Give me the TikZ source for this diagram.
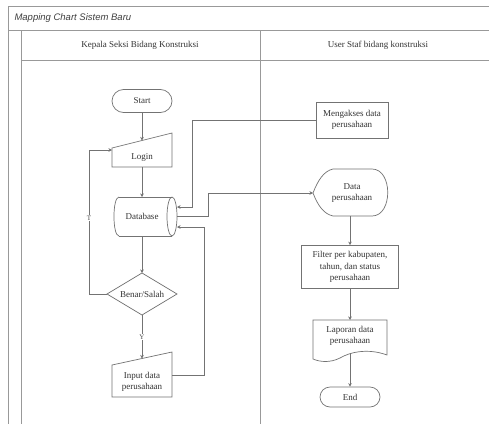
\documentclass[tikz,border=0pt]{standalone}
\usepackage{fontspec}
\setmainfont{Liberation Serif}
\newfontfamily\titlefont{Liberation Sans}
\usetikzlibrary{arrows.meta,calc}
\begin{document}
\begin{tikzpicture}[x=1pt,y=-1pt,
  frame/.style={draw=black!40,line width=0.8pt},
  shp/.style={draw=black!55,line width=0.7pt},
  txt/.style={font=\fontsize{9}{11.5}\selectfont,align=center,inner sep=0pt,text=black!80},
  link/.style={draw=black!55,line width=0.7pt},
  arr/.style={link,-{Stealth[length=3.5pt,width=3.5pt]}},
  lbl/.style={font=\fontsize{7}{8}\selectfont,fill=white,inner sep=0.5pt,text=black!70}]
\useasboundingbox (0,0) rectangle (489,423);
\fill[white] (0,0) rectangle (489,423);

% pool frame, title row and lane headers
\draw[frame] (495,6) -- (8,6) -- (8,430);
\draw[frame] (8,30) -- (495,30);
\draw[frame] (21,30) -- (21,430);
\draw[frame] (21,60) -- (495,60);
\draw[frame] (260,30) -- (260,430);
\node[anchor=west,font=\titlefont\itshape\fontsize{9.5}{11}\selectfont,text=black!75] (title) at (11,18) {Mapping Chart Sistem Baru};
\node[txt] (laneA) at (140,45) {Kepala Seksi Bidang Konstruksi};
\node[txt] (laneB) at (378,45) {User Staf bidang konstruksi};

% ---- left lane ----
\node[txt,shp,rounded corners=11.5pt,minimum width=60pt,minimum height=23pt] (start) at (142,101) {Start};

% Login (manual input)
\draw[shp] (112,148) -- (172,133) -- (172,167) -- (112,167) -- cycle;
\coordinate (loginTop) at (142,140.5);
\coordinate (loginBot) at (142,167);
\coordinate (loginW) at (112,150);
\node[txt] (login) at (142,157) {Login};

% Database (direct access storage)
\draw[shp] (119,197) -- (172,197) (119,236) -- (172,236);
\draw[shp] (119,197) .. controls (112.3,197) and (112.3,236) .. (119,236);
\draw[shp] (172,216.5) ellipse [x radius=5, y radius=19.5];
\coordinate (dbTop) at (142,197);
\coordinate (dbBot) at (142,236);
\coordinate (dbInA) at (177,207);
\coordinate (dbOut) at (177,216);
\coordinate (dbInB) at (177,227);
\node[txt] (db) at (142,216.5) {Database};

% Benar/Salah decision
\draw[shp] (107,294) -- (142,273) -- (177,294) -- (142,315) -- cycle;
\coordinate (decTop) at (142,273);
\coordinate (decBot) at (142,315);
\coordinate (decW) at (107,294);
\node[txt] (dec) at (142,294) {Benar/Salah};

% Input data perusahaan (manual input)
\draw[shp] (112,365) -- (172,352) -- (172,397) -- (112,397) -- cycle;
\coordinate (inpTop) at (142,358.5);
\coordinate (inpE) at (172,375);
\node[txt] (inp) at (142,382) {Input data\\perusahaan};

% ---- right lane ----
\node[txt,shp,minimum width=72pt,minimum height=36pt] (acc) at (352,120) {Mengakses data\\perusahaan};

% Data perusahaan (display)
\draw[shp] (313,193) .. controls (318,180) and (324,171) .. (333,169) -- (372,169)
  .. controls (393,169) and (393,216) .. (372,216) -- (333,216)
  .. controls (324,214) and (318,206) .. cycle;
\coordinate (datW) at (313,193);
\coordinate (datBot) at (350,216);
\node[txt] (dat) at (352,193) {Data\\perusahaan};

\node[txt,shp,minimum width=97pt,minimum height=43pt] (fil) at (350,267) {Filter per kabupaten,\\tahun, dan status\\perusahaan};

% Laporan data perusahaan (document)
\draw[shp] (313,320) -- (387,320) -- (387,355)
  .. controls (368,348) and (350,352) .. (340,358)
  .. controls (330,363) and (320,362) .. (313,359) -- cycle;
\coordinate (lapTop) at (350,320);
\coordinate (lapBot) at (350,353);
\node[txt] (lap) at (350,336) {Laporan data\\perusahaan};

\node[txt,shp,rounded corners=10pt,minimum width=60pt,minimum height=20pt] (end) at (350,397) {End};

% ---- connectors ----
\draw[arr] (start.south) -- (loginTop);
\draw[arr] (loginBot) -- (dbTop);
\draw[arr] (dbBot) -- (decTop);
\draw[arr] (decW) -- (89,294) -- (89,150) -- (loginW);
\node[lbl] (tlabel) at (89,218) {T};
\draw[arr] (decBot) -- (inpTop);
\node[lbl] (ylabel) at (142,337) {Y};
\draw[arr] (inpE) -- (204,375) -- (204,227) -- (dbInB);
\draw[arr] (acc.west) -- (192,120) -- (192,207) -- (dbInA);
\draw[arr] (dbOut) -- (208,216) -- (208,193) -- (datW);
\draw[arr] (datBot) -- (fil.north);
\draw[arr] (fil.south) -- (lapTop);
\draw[arr] (lapBot) -- (end.north);
\end{tikzpicture}
\end{document}
